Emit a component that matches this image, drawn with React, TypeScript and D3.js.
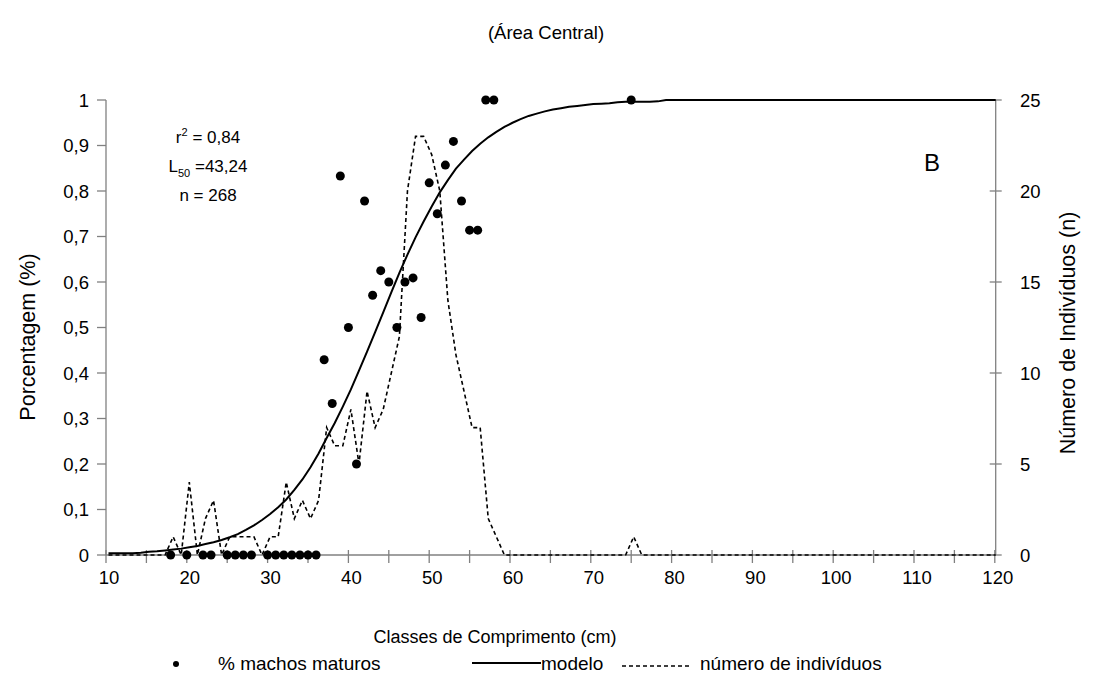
import React from "react";
import * as d3 from "d3";

// ---- data ----
const lengthClasses = [
  10, 11, 12, 13, 14, 15, 16, 17, 18, 19, 20, 21, 22, 23, 24, 25, 26, 27, 28, 29,
  30, 31, 32, 33, 34, 35, 36, 37, 38, 39, 40, 41, 42, 43, 44, 45, 46, 47, 48, 49,
  50, 51, 52, 53, 54, 55, 56, 57, 58, 59, 60, 61, 62, 63, 64, 65, 66, 67, 68, 69,
  70, 71, 72, 73, 74, 75, 76, 77, 78, 79, 80, 81, 82, 83, 84, 85, 86, 87, 88, 89,
  90, 91, 92, 93, 94, 95, 96, 97, 98, 99, 100, 101, 102, 103, 104, 105, 106, 107, 108, 109,
  110, 111, 112, 113, 114, 115, 116, 117, 118, 119, 120,
];

// número de indivíduos per length class (right axis)
const nIndividuals = [
  0, 0, 0, 0, 0, 0, 0, 0, 1, 0, 4, 0, 2, 3, 0, 1, 1, 1, 1, 0,
  1, 1, 4, 2, 3, 2, 3, 7, 6, 6, 8, 5, 9, 7, 8, 10, 12, 20, 23, 23,
  22, 20, 14, 11, 9, 7, 7, 2, 1, 0, 0, 0, 0, 0, 0, 0, 0, 0, 0, 0,
  0, 0, 0, 0, 0, 1, 0, 0, 0, 0, 0, 0, 0, 0, 0, 0, 0, 0, 0, 0,
  0, 0, 0, 0, 0, 0, 0, 0, 0, 0, 0, 0, 0, 0, 0, 0, 0, 0, 0, 0,
  0, 0, 0, 0, 0, 0, 0, 0, 0, 0, 0,
];

// modelo (logistic fit)
const modelValues = [
  0.004, 0.004, 0.004, 0.004, 0.005, 0.007, 0.008, 0.010, 0.012, 0.014, 0.017, 0.020, 0.024, 0.028, 0.033, 0.039, 0.046, 0.055, 0.065, 0.077,
  0.090, 0.105, 0.122, 0.143, 0.166, 0.193, 0.223, 0.257, 0.290, 0.326, 0.364, 0.405, 0.447, 0.490, 0.533, 0.577, 0.620, 0.660, 0.698, 0.733,
  0.766, 0.797, 0.824, 0.849, 0.869, 0.888, 0.904, 0.918, 0.930, 0.941, 0.950, 0.958, 0.965, 0.970, 0.975, 0.979, 0.982, 0.985, 0.987, 0.989,
  0.991, 0.992, 0.993, 0.995, 0.996, 0.996, 0.996, 0.996, 0.997, 1, 1, 1, 1, 1, 1, 1, 1, 1, 1, 1,
  1, 1, 1, 1, 1, 1, 1, 1, 1, 1, 1, 1, 1, 1, 1, 1, 1, 1, 1, 1,
  1, 1, 1, 1, 1, 1, 1, 1, 1, 1, 1,
];

// % machos maturos (dots)
const matureClasses = [18, 20, 22, 23, 25, 26, 27, 28, 30, 31, 32, 33, 34, 35, 36, 37, 38, 39, 40, 41, 42, 43, 44, 45, 46, 47, 48, 49, 50, 51, 52, 53, 54, 55, 56, 57, 58, 75];
const maturePct = [0, 0, 0, 0, 0, 0, 0, 0, 0, 0, 0, 0, 0, 0, 0, 0.429, 0.333, 0.833, 0.5, 0.2, 0.778, 0.571, 0.625, 0.6, 0.5, 0.6, 0.609, 0.522, 0.818, 0.75, 0.857, 0.909, 0.778, 0.714, 0.714, 1, 1, 1];

const xTickLabels = [10, 20, 30, 40, 50, 60, 70, 80, 90, 100, 110, 120];
const xMinorTicks = [10, 15, 20, 25, 30, 35, 40, 45, 50, 55, 60, 65, 70, 75, 80, 85, 90, 95, 100, 105, 110, 115, 120];
const leftTicks = [0, 0.1, 0.2, 0.3, 0.4, 0.5, 0.6, 0.7, 0.8, 0.9, 1];
const rightTicks = [0, 5, 10, 15, 20, 25];

const FONT = "'Liberation Sans', Arial, Helvetica, sans-serif";

export default function App() {
  const W = 1093;
  const H = 683;
  const left = 106;
  const right = 995.7;
  const top = 100;
  const bottom = 555;

  const x = d3.scaleLinear().domain([10, 120]).range([left, 994.8]);
  const xl = x.copy().range([left + 2.5, 994.8 + 2.5]);
  const yL = d3.scaleLinear().domain([0, 1]).range([bottom, top]);
  const yR = d3.scaleLinear().domain([0, 25]).range([bottom, top]);

  const nLine = d3
    .line<number>()
    .x((_, i) => xl(lengthClasses[i]))
    .y((d) => yR(d));
  const mLine = d3
    .line<number>()
    .x((_, i) => xl(lengthClasses[i]))
    .y((d) => yL(d));

  const fmt = (v: number) => String(v).replace(".", ",");
  const axisColor = "#808080";
  const tickFs = 18.5;
  const legFs = 19;
  const legY = 664;

  return (
    <svg width={W} height={H} style={{ display: "block", position: "absolute", left: 0, top: 0 }} fontFamily={FONT}>
      <rect width={W} height={H} fill="#fff" />
      <defs>
        <clipPath id="plotclip">
          <rect x={left} y={top - 5} width={right - left} height={bottom - top + 10} />
        </clipPath>
      </defs>

      {/* title */}
      <text x={546} y={39} textAnchor="middle" fontSize={18.5} fill="#000">
        (Área Central)
      </text>

      {/* axes */}
      <line x1={left} x2={left} y1={top} y2={bottom} stroke={axisColor} strokeWidth={1.3} />
      <line x1={right} x2={right} y1={top} y2={bottom} stroke={axisColor} strokeWidth={1.3} />
      <line x1={left} x2={right} y1={bottom} y2={bottom} stroke={axisColor} strokeWidth={1.3} />

      {leftTicks.map((t) => (
        <g key={"l" + t}>
          <line x1={left - 9} x2={left} y1={yL(t)} y2={yL(t)} stroke={axisColor} strokeWidth={1.3} />
          <text x={89} y={yL(t) + 6.5} textAnchor="end" fontSize={tickFs} fill="#000">
            {fmt(t)}
          </text>
        </g>
      ))}
      {rightTicks.map((t) => (
        <g key={"r" + t}>
          <line x1={right - 6} x2={right + 6} y1={yR(t)} y2={yR(t)} stroke={axisColor} strokeWidth={1.3} />
          <text x={1020} y={yR(t) + 6.5} textAnchor="start" fontSize={tickFs} fill="#000">
            {t}
          </text>
        </g>
      ))}
      {xMinorTicks.map((t) => (
        <line key={"xt" + t} x1={x(t)} x2={x(t)} y1={bottom - 5} y2={bottom + 8} stroke={axisColor} strokeWidth={1.3} />
      ))}
      {xTickLabels.map((t) => (
        <text key={"xl" + t} x={x(t) + 3} y={584} textAnchor="middle" fontSize={tickFs} fill="#000">
          {t}
        </text>
      ))}

      {/* axis titles */}
      <text x={495} y={643} textAnchor="middle" fontSize={18} fill="#000">
        Classes de Comprimento (cm)
      </text>
      <text transform="translate(35,337) rotate(-90)" textAnchor="middle" fontSize={21.5} fill="#000">
        Porcentagem (%)
      </text>
      <text transform="translate(1075,333) rotate(-90)" textAnchor="middle" fontSize={21.5} fill="#000">
        Número de Indivíduos (n)
      </text>

      {/* series */}
      <g clipPath="url(#plotclip)">
        <path d={nLine(nIndividuals) || ""} fill="none" stroke="#000" strokeWidth={1.6} strokeDasharray="4,3" />
        <path d={mLine(modelValues) || ""} fill="none" stroke="#000" strokeWidth={2} />
      </g>
      {matureClasses.map((c, i) => (
        <circle key={"d" + c} cx={x(c)} cy={yL(maturePct[i])} r={4.5} fill="#000" />
      ))}

      {/* annotation */}
      <text x={208} y={143} textAnchor="middle" fontSize={17} fill="#000">
        r<tspan dy={-7} fontSize={11}>2</tspan>
        <tspan dy={7}> = 0,84</tspan>
      </text>
      <text x={208} y={172} textAnchor="middle" fontSize={17} fill="#000">
        L<tspan dy={5} fontSize={11}>50</tspan>
        <tspan dy={-5}> =43,24</tspan>
      </text>
      <text x={208} y={201} textAnchor="middle" fontSize={17} fill="#000">
        n = 268
      </text>
      <text x={932} y={171} textAnchor="middle" fontSize={24} fill="#000">
        B
      </text>

      {/* legend */}
      <circle cx={176} cy={legY} r={3} fill="#000" />
      <text x={218} y={legY + 6} fontSize={legFs} fill="#000">
        % machos maturos
      </text>
      <line x1={472} x2={541} y1={legY - 1} y2={legY - 1} stroke="#000" strokeWidth={1.8} />
      <text x={541} y={legY + 6} fontSize={legFs} fill="#000">
        modelo
      </text>
      <line x1={622} x2={692} y1={legY + 2} y2={legY + 2} stroke="#000" strokeWidth={1.6} strokeDasharray="4,3" />
      <text x={700} y={legY + 6} fontSize={legFs} fill="#000">
        número de indivíduos
      </text>
    </svg>
  );
}
